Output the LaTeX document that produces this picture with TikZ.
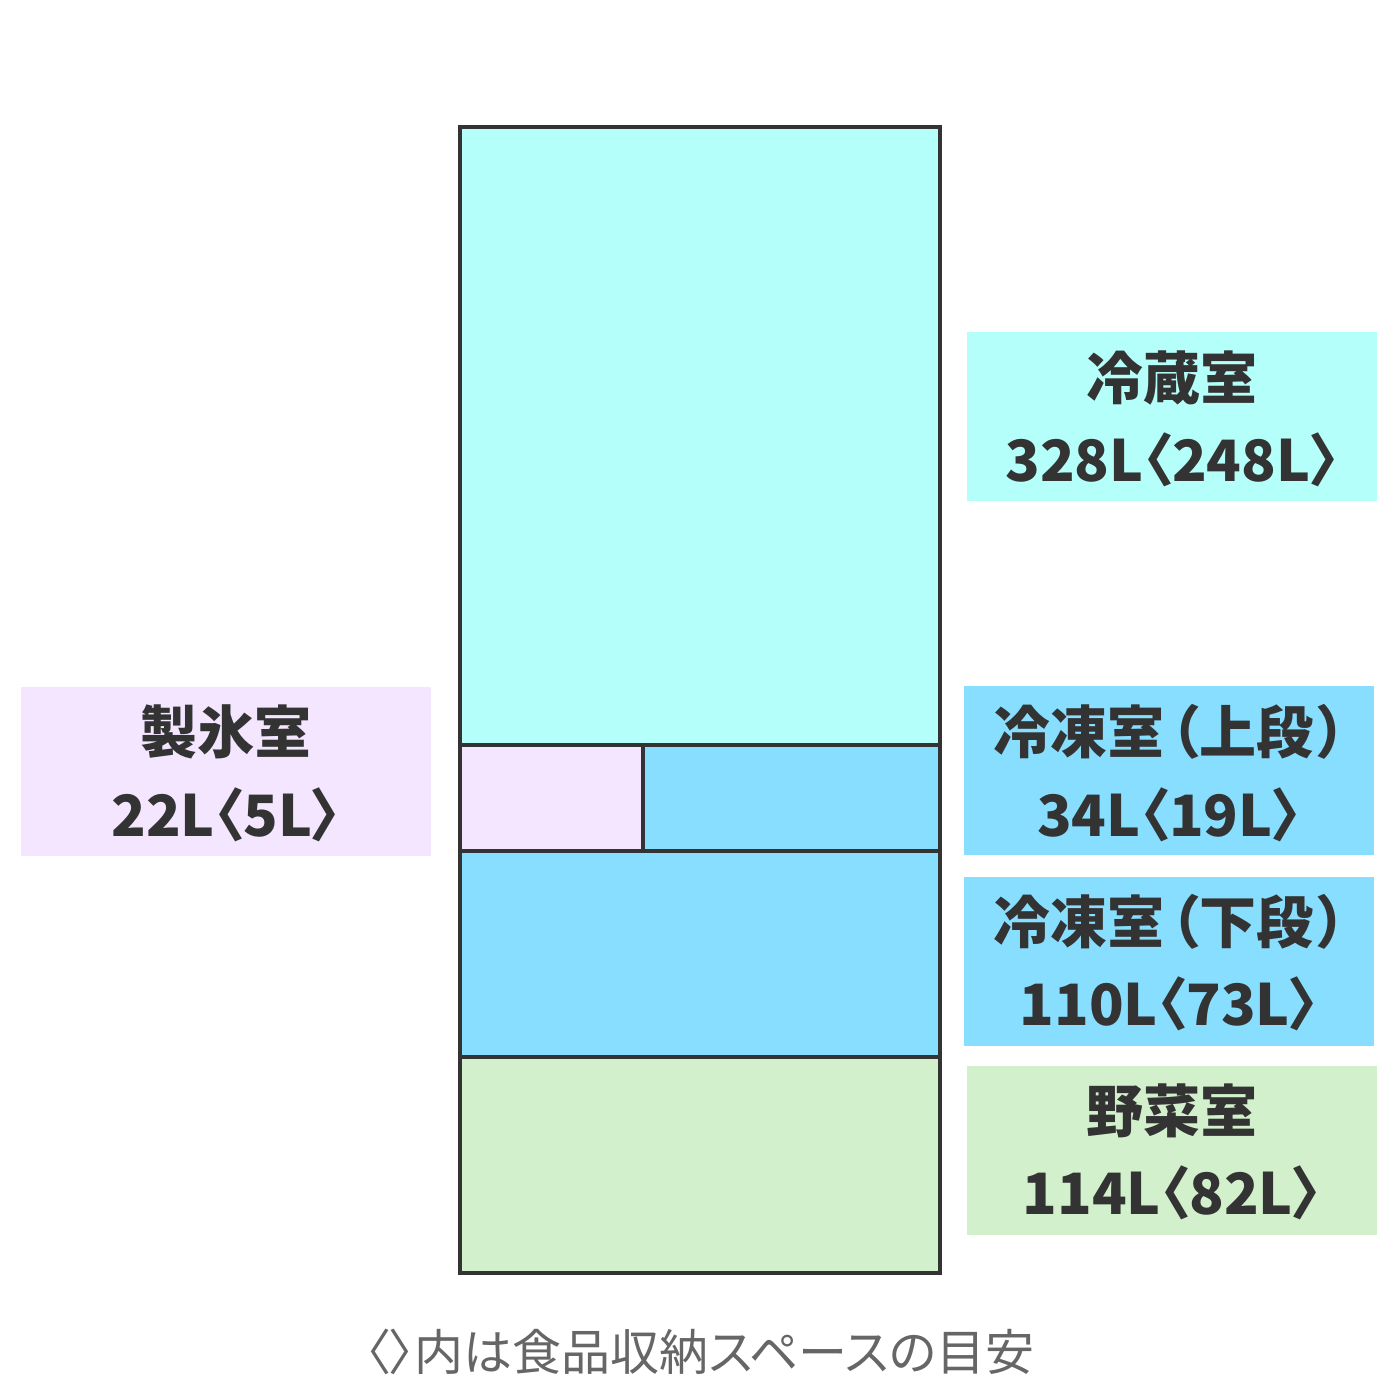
\documentclass[tikz,border=0pt]{standalone}
\usepackage{fontspec}
\setmainfont{Noto Sans CJK JP}
\newfontfamily\jpp{Noto Sans CJK JP}[RawFeature=+palt]
\definecolor{cfridge}{HTML}{B5FFFA}
\definecolor{cice}{HTML}{F5E6FF}
\definecolor{cfreeze}{HTML}{88DEFF}
\definecolor{cveg}{HTML}{D2F0CC}
\definecolor{cline}{HTML}{333333}
\definecolor{ctext}{HTML}{333333}
\definecolor{ccap}{HTML}{666666}
\tikzset{
  labelbox/.style={minimum width=410pt, minimum height=169pt, inner sep=0pt, outer sep=0pt},
  labeltxt/.style={text=ctext, font=\jpp\fontsize{57}{60}\selectfont\bfseries, inner sep=0pt, anchor=center},
  divider/.style={draw=cline, line width=4pt},
}
\begin{document}
\begin{tikzpicture}[x=1pt,y=-1pt]
\useasboundingbox (0,0) rectangle (1400,1400);
\fill[white] (0,0) rectangle (1400,1400);
% fridge compartments
\fill[cfridge] (460,127) rectangle (940,745);
\fill[cice] (460,745) rectangle (643,851);
\fill[cfreeze] (643,745) rectangle (940,851);
\fill[cfreeze] (460,851) rectangle (940,1057);
\fill[cveg] (460,1057) rectangle (940,1273);
\draw[divider] (460,745) -- (940,745);
\draw[divider] (460,851) -- (940,851);
\draw[divider] (460,1057) -- (940,1057);
\draw[divider] (643,745) -- (643,851);
\draw[divider] (460,127) rectangle (940,1273);
% label boxes
\node[labelbox, fill=cfridge] (b1) at (1172,416.5) {};
\node[labeltxt] (t1) at (1172,378) {冷蔵室};
\node[labeltxt] (v1) at (1172,460) {328L〈248L〉};
\node[labelbox, fill=cice] (b2) at (226,771.5) {};
\node[labeltxt] (t2) at (226,732) {製氷室};
\node[labeltxt] (v2) at (226,815) {22L〈5L〉};
\node[labelbox, fill=cfreeze] (b3) at (1169,770.5) {};
\node[labeltxt] (t3) at (1170,732) {冷凍室\kern6pt（上段\kern5pt）};
\node[labeltxt] (v3) at (1169,815) {34L〈19L〉};
\node[labelbox, fill=cfreeze] (b4) at (1169,961.5) {};
\node[labeltxt] (t4) at (1170,922) {冷凍室\kern6pt（下段\kern5pt）};
\node[labeltxt] (v4) at (1169,1004) {110L〈73L〉};
\node[labelbox, fill=cveg] (b5) at (1172,1150.5) {};
\node[labeltxt] (t5) at (1172,1111) {野菜室};
\node[labeltxt] (v5) at (1172,1193) {114L〈82L〉};
% caption
\node[text=ccap, font=\jpp\fontsize{49}{52}\selectfont, inner sep=0pt] (cap) at (700,1352) {〈〉内は食品収納スペースの目安};
\end{tikzpicture}
\end{document}
